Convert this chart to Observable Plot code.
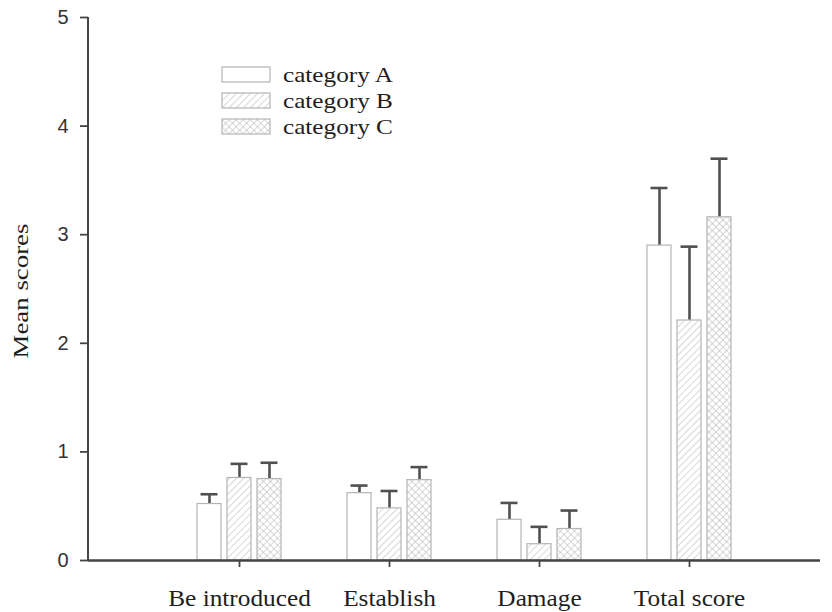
<!DOCTYPE html>
<html>
<head>
<meta charset="utf-8">
<script src="https://cdn.jsdelivr.net/npm/d3@7"></script>
<script src="https://cdn.jsdelivr.net/npm/@observablehq/plot@0.6"></script>
<style>
  html, body { margin: 0; padding: 0; background: #fff; }
  #chart { position: relative; width: 832px; height: 612px; }
  svg { display: block; }
</style>
</head>
<body>
<div id="chart"></div>
<script>
// ---- data ----
const categories = ["Be introduced", "Establish", "Damage", "Total score"];
const seriesNames = ["category A", "category B", "category C"];
const meanA = [0.52, 0.62, 0.375, 2.90];
const errA  = [0.09, 0.07, 0.155, 0.53];
const meanB = [0.76, 0.48, 0.15, 2.21];
const errB  = [0.13, 0.16, 0.16, 0.68];
const meanC = [0.75, 0.74, 0.29, 3.16];
const errC  = [0.15, 0.12, 0.17, 0.54];
const yTicks = [0, 1, 2, 3, 4, 5];
const yLabel = "Mean scores";

// ---- styling ----
const fills = ["#ffffff", "url(#hatchB)", "url(#hatchC)"];
const offsets = [-30, 0, 30];      // group offset of each series within a category band
const barInset = 63;               // shrinks the band to the bar width
const capInset = 66.5;             // shrinks the band to the cap width
const serif = "'Liberation Serif', 'Times New Roman', serif";
const sans = "'Liberation Sans', Arial, sans-serif";

const means = [meanA, meanB, meanC];
const errs = [errA, errB, errC];
const rows = seriesNames.map((s, si) => categories.map((c, ci) => ({
  category: c, series: s, mean: means[si][ci], upper: means[si][ci] + errs[si][ci]
})));

const marks = [];
rows.forEach((data, si) => {
  marks.push(Plot.ruleX(data, {x: "category", y1: "mean", y2: "upper", dx: offsets[si], stroke: "#505050", strokeWidth: 2.6}));
  marks.push(Plot.tickY(data, {x: "category", y: "upper", dx: offsets[si], insetLeft: capInset, insetRight: capInset, stroke: "#505050", strokeWidth: 2.6}));
  marks.push(Plot.barY(data, {x: "category", y: "mean", dx: offsets[si], insetLeft: barInset, insetRight: barInset,
    fill: fills[si], stroke: "#b4b4b4", strokeWidth: 1.2}));
});

const plot = Plot.plot({
  width: 832,
  height: 612,
  marginTop: 17,
  marginBottom: 52,
  marginLeft: 88,
  marginRight: 12,
  style: {background: "#fff", overflow: "visible"},
  x: {type: "band", domain: categories, range: [163, 765], padding: 0},
  y: {domain: [0, 5]},
  marks: [
    ...marks,
    Plot.ruleY([0], {stroke: "#444", strokeWidth: 2.4}),
    Plot.axisY({ticks: yTicks, tickFormat: d3.format("d"), tickSize: 8, tickPadding: 12, label: null, fontSize: 20, fontFamily: sans, fill: "#333", stroke: "#444", strokeWidth: 1.8}),
    Plot.axisX({tickSize: 7, tickPadding: 22, label: null, fontSize: 23, fontFamily: serif, fill: "#1e1e1e", stroke: "#444", strokeWidth: 1.8}),
    Plot.text([yLabel], {frameAnchor: "left", textAnchor: "middle", dx: -68, dy: 2, rotate: -90, fontSize: 22, fontFamily: serif, fill: "#1e1e1e"})
  ]
});

document.getElementById("chart").append(plot);

const svg = d3.select(plot);
// patterns
const defs = svg.insert("defs", ":first-child");
const pB = defs.append("pattern").attr("id", "hatchB").attr("patternUnits", "userSpaceOnUse")
  .attr("width", 5).attr("height", 5).attr("patternTransform", "rotate(45)");
pB.append("rect").attr("width", 5).attr("height", 5).attr("fill", "#fff");
pB.append("line").attr("x1", 0).attr("y1", 0).attr("x2", 0).attr("y2", 5).attr("stroke", "#b8b8b8").attr("stroke-width", 1.1);
const pC = defs.append("pattern").attr("id", "hatchC").attr("patternUnits", "userSpaceOnUse")
  .attr("width", 5).attr("height", 5).attr("patternTransform", "rotate(45)");
pC.append("rect").attr("width", 5).attr("height", 5).attr("fill", "#fff");
pC.append("line").attr("x1", 0).attr("y1", 0).attr("x2", 0).attr("y2", 5).attr("stroke", "#a8a8a8").attr("stroke-width", 0.9);
pC.append("line").attr("x1", 0).attr("y1", 0).attr("x2", 5).attr("y2", 0).attr("stroke", "#a8a8a8").attr("stroke-width", 0.9);

// y axis line drawn from the y scale
const ys = plot.scale("y");
const yPix = ys.range;
svg.append("line")
  .attr("x1", 88).attr("x2", 88)
  .attr("y1", yPix[0]).attr("y2", yPix[1])
  .attr("stroke", "#444").attr("stroke-width", 2);

// legend
const legend = svg.append("g").attr("transform", "translate(222,67)");
seriesNames.forEach((name, i) => {
  const g = legend.append("g").attr("transform", `translate(0,${i * 26})`);
  g.append("rect").attr("width", 48).attr("height", 15).attr("fill", fills[i]).attr("stroke", "#b4b4b4").attr("stroke-width", 1.2);
  g.append("text").attr("x", 61).attr("y", 14.5).attr("text-anchor", "start")
    .attr("font-family", serif).attr("font-size", 21).attr("fill", "#1e1e1e").text(name);
});

// serif text in the reference is horizontally wider than Times; widen it
function stretch(sel, k) {
  sel.each(function() {
    const w = this.getComputedTextLength();
    this.setAttribute("textLength", w * k);
    this.setAttribute("lengthAdjust", "spacingAndGlyphs");
  });
}
stretch(svg.selectAll('g[aria-label="x-axis tick label"] text'), 1.1);
stretch(legend.selectAll("text"), 1.2);
stretch(svg.selectAll('g[aria-label="text"] text'), 1.22);
</script>
</body>
</html>
